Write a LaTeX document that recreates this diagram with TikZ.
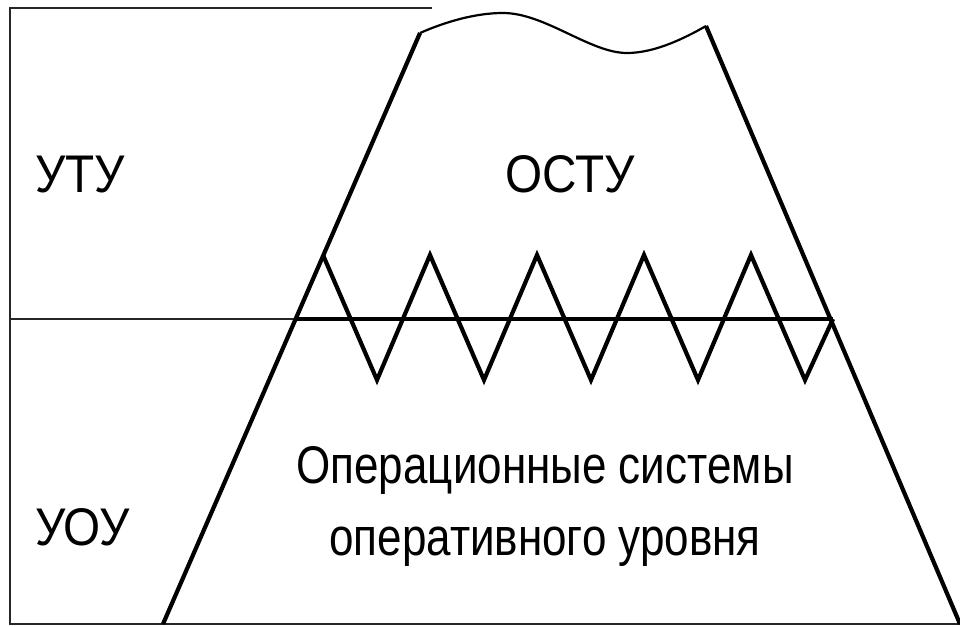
\documentclass[tikz,border=0pt]{standalone}
\usepackage{fontspec}
\setmainfont{Liberation Sans}
\newfontfamily\lblfont[FakeStretch=0.9]{Liberation Sans}
\newfontfamily\opsfont[FakeStretch=0.83]{Liberation Sans}
\usepackage{tikz}
\usetikzlibrary{
    positioning,
    calc
}
\tikzset{
  frame/.style  = {line width=1.8pt, black!85},
  thin/.style   = {line width=1.3pt, black!85},
  slope/.style  = {line width=4.2pt, black},
  level/.style  = {line width=3.5pt, black},
  zig/.style    = {line width=4.2pt, black, line join=miter},
  crest/.style  = {line width=2.2pt, black},
  lbl/.style    = {inner sep=0pt, font=\lblfont\fontsize{53}{72}\selectfont},
  opslbl/.style = {inner sep=0pt, anchor=base,
                   font=\opsfont\fontsize{53}{72}\selectfont},
  sidelbl/.style = {lbl, anchor=base west}
}

\begin{document}
\begin{tikzpicture}[x=1pt, y=-1pt]
    \useasboundingbox (0,0) rectangle (960,626);

    % frame and level boundary
    \coordinate (TL) at (10,8);
    \coordinate (TR) at (432,8);
    \coordinate (BL) at (10,624);
    \coordinate (BR) at (960,624);
    \coordinate (ML) at (10,319);
    \draw[frame] (TR) -- (TL) -- (BL) -- (BR);

    % mountain
    \coordinate (peakL) at (420,33);
    \coordinate (peakR) at (706,26);
    \coordinate (footL) at (163,624);
    \coordinate (footR) at (960,624);
    \coordinate (midL)  at (296,319);
    \coordinate (midR)  at (833,319);
    \draw[thin] (ML) -- (midL);
    \draw[slope] (footL) -- (peakL);
    \draw[slope] (peakR) -- (footR);
    \draw[level] (midL) -- (midR);
    \draw[crest] (peakL) .. controls (445,22) and (475,13) .. (503,13)
                 .. controls (545,13) and (590,53) .. (627,53)
                 .. controls (655,53) and (685,38) .. (peakR);

    % zigzag
    \coordinate (zig0) at (323,255);
    \draw[zig] (zig0)
      \foreach \i in {0,...,3} { -- ({377+107*\i},380) -- ({430+107*\i},255) }
      -- (805,380) -- (midR);

    % labels
    \node[sidelbl] (uty)  at (35,192)  {УТУ};
    \node[sidelbl] (uoy)  at (35,545)  {УОУ};
    \node[lbl, anchor=base] (ostu) at (570,192) {ОСТУ};
    \node[opslbl] (ops1) at (545,483) {Операционные системы};
    \node[opslbl] (ops2) at (545,555) {оперативного уровня};
  \end{tikzpicture}
\end{document}
